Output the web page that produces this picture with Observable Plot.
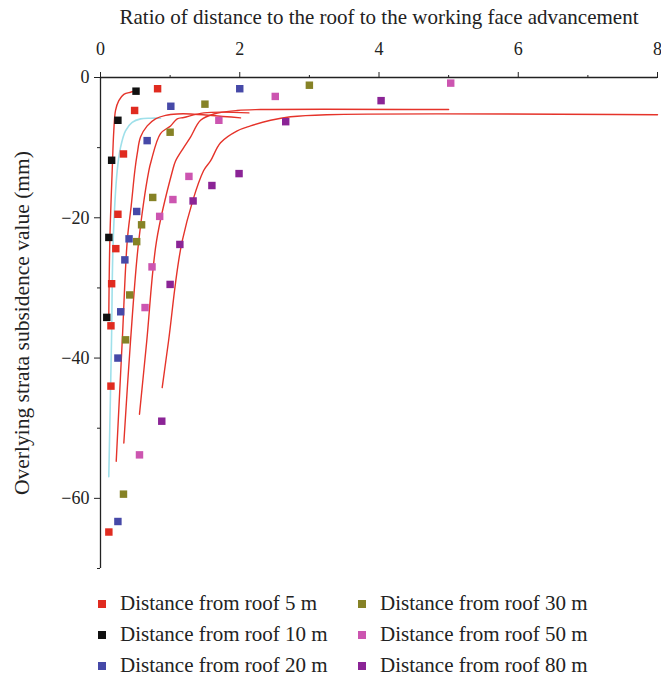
<!DOCTYPE html>
<html>
<head>
<meta charset="utf-8">
<script src="https://cdn.jsdelivr.net/npm/d3@7"></script>
<script src="https://cdn.jsdelivr.net/npm/@observablehq/plot@0.6"></script>
<style>
  body { margin: 0; background: #fff; }
  #wrap { width: 661px; font-family: "Liberation Serif", "DejaVu Serif", serif; color: #222; }
  .legend { display: grid; grid-template-columns: 260px 260px; row-gap: 8px; margin: 12px 0 0 98px; font-size: 21px; }
  .item { display: flex; align-items: center; height: 23px; }
  .sw { width: 8px; height: 8px; margin-right: 14px; flex: none; }
</style>
</head>
<body>
<div id="wrap"></div>
<script>
// ---- data: scatter series ----
const seriesNames = ["Distance from roof 5 m", "Distance from roof 10 m", "Distance from roof 20 m",
                     "Distance from roof 30 m", "Distance from roof 50 m", "Distance from roof 80 m"];
const seriesColors = ["#e02b20", "#111111", "#4649a8", "#868226", "#cc55b0", "#8b2496"];

const x5  = [0.82, 0.49, 0.33, 0.25, 0.22, 0.16, 0.15, 0.15, 0.12];
const y5  = [-1.6, -4.7, -10.9, -19.5, -24.4, -29.4, -35.4, -44, -64.8];
const x10 = [0.51, 0.25, 0.16, 0.12, 0.09];
const y10 = [-1.95, -6.1, -11.8, -22.8, -34.2];
const x20 = [2.0, 1.01, 0.67, 0.52, 0.41, 0.35, 0.29, 0.25, 0.25];
const y20 = [-1.6, -4.1, -9, -19.1, -23, -26, -33.4, -40, -63.3];
const x30 = [3.0, 1.5, 1.0, 0.75, 0.59, 0.52, 0.42, 0.36, 0.33];
const y30 = [-1.1, -3.8, -7.8, -17.1, -21, -23.4, -31, -37.4, -59.4];
const x50 = [5.03, 2.51, 1.70, 1.27, 1.04, 0.85, 0.74, 0.64, 0.56];
const y50 = [-0.8, -2.7, -6.1, -14.1, -17.4, -19.8, -27, -32.8, -53.8];
const x80 = [4.03, 2.66, 1.99, 1.6, 1.33, 1.14, 1.0, 0.88];
const y80 = [-3.3, -6.3, -13.7, -15.4, -17.6, -23.8, -29.5, -49];

// ---- data: fitted curves ----
const fitAx = [0.119, 0.134, 0.168, 0.191, 0.216, 0.263, 0.335, 0.431, 0.478];
const fitAy = [-34.3, -23.3, -13.3, -7.6, -4.7, -3.3, -2.4, -2.1, -2.0];
const fitCyanX = [0.119, 0.158, 0.182, 0.240, 0.287, 0.359, 0.455, 0.575, 0.718, 0.862];
const fitCyanY = [-56.9, -37.6, -23.3, -13.3, -10.0, -7.6, -6.4, -5.9, -5.8, -5.8];
const fitBx = [0.226, 0.312, 0.384, 0.441, 0.493, 0.527, 0.575, 0.671, 0.790, 0.934, 1.102, 1.293, 2.011];
const fitBy = [-54.7, -37.6, -23.3, -18.3, -13.3, -10.9, -8.5, -6.9, -5.9, -5.4, -5.2, -5.2, -5.76];
const fitCx = [0.335, 0.431, 0.545, 0.694, 0.728, 0.862, 1.006, 1.102, 1.197, 1.484, 2.131];
const fitCy = [-52.1, -37.6, -23.7, -13.3, -11.9, -8.0, -6.9, -5.9, -5.7, -5.04, -5.04];
const fitDx = [0.560, 0.664, 0.805, 1.034, 1.078, 1.197, 1.293, 1.437, 1.628, 1.964, 2.299, 5.0];
const fitDy = [-48.0, -37.6, -23.3, -13.3, -11.9, -9.96, -8.5, -6.1, -5.2, -4.7, -4.57, -4.57];
const fitEx = [0.886, 0.977, 1.174, 1.480, 1.580, 1.724, 1.964, 2.155, 2.443, 2.730, 3.247, 8.0];
const fitEy = [-44.2, -37.6, -23.3, -13.3, -11.9, -9.3, -7.6, -6.9, -6.1, -5.6, -5.3, -5.3];

// ---- axis ticks ----
const xMajor = [0, 2, 4, 6, 8];
const xMinor = [1, 3, 5, 7];
const yMajor = [0, -20, -40, -60];
const yMinor = [-10, -30, -50, -70];
const xTitle = "Ratio of distance to the roof to the working face advancement";
const yTitle = "Overlying strata subsidence value (mm)";

const xs = [x5, x10, x20, x30, x50, x80];
const ys = [y5, y10, y20, y30, y50, y80];
const points = xs.flatMap((xa, i) => xa.map((x, j) => ({x, y: ys[i][j], s: seriesNames[i]})));

const mkLine = (X, Y, id) => X.map((x, i) => ({x, y: Y[i], id}));
const redLines = [
  ...mkLine(fitAx, fitAy, "A"), ...mkLine(fitBx, fitBy, "B"), ...mkLine(fitCx, fitCy, "C"),
  ...mkLine(fitDx, fitDy, "D"), ...mkLine(fitEx, fitEy, "E")
];
const cyanLine = mkLine(fitCyanX, fitCyanY, "cyan");
const fmt = d => d < 0 ? "\u2212" + (-d) : String(d);

const chart = Plot.plot({
  width: 661,
  height: 580,
  marginTop: 77,
  marginLeft: 100,
  marginRight: 4,
  marginBottom: 12,
  style: {fontFamily: "'Liberation Serif', 'DejaVu Serif', serif", fontSize: "18px", background: "#fff", color: "#222"},
  x: {domain: [0, 8]},
  y: {domain: [-70, 0]},
  color: {domain: seriesNames, range: seriesColors},
  marks: [
    Plot.axisX({anchor: "top", ticks: xMajor, tickSize: 6, tickPadding: 17, tickFormat: fmt, label: null}),
    Plot.axisX({anchor: "top", ticks: xMinor, tickSize: 3, tickFormat: () => "", label: null}),
    Plot.axisY({anchor: "left", ticks: yMajor, tickSize: 6, tickPadding: 5, tickFormat: fmt, label: null}),
    Plot.axisY({anchor: "left", ticks: yMinor, tickSize: 3, tickFormat: () => "", label: null}),
    Plot.ruleY([0], {stroke: "#222", strokeWidth: 1.3}),
    Plot.ruleX([0], {stroke: "#222", strokeWidth: 1.3}),
    Plot.text([xTitle], {frameAnchor: "top", dy: -60, fontSize: 21, lineAnchor: "middle", textAnchor: "middle"}),
    Plot.text([yTitle], {frameAnchor: "left", rotate: -90, dx: -78, fontSize: 21.5, textAnchor: "middle", lineAnchor: "middle"}),
    Plot.line(cyanLine, {x: "x", y: "y", z: "id", stroke: "#9fe0ea", strokeWidth: 1.6, curve: "catmull-rom"}),
    Plot.line(redLines, {x: "x", y: "y", z: "id", stroke: "#e5332a", strokeWidth: 1.4, curve: "catmull-rom"}),
    Plot.dot(points, {x: "x", y: "y", fill: "s", symbol: "square", r: 4.2})
  ]
});

const wrap = document.getElementById("wrap");
wrap.appendChild(chart);

const leg = document.createElement("div");
leg.className = "legend";
const order = [0, 3, 1, 4, 2, 5];
for (const i of order) {
  const it = document.createElement("div");
  it.className = "item";
  const sw = document.createElement("span");
  sw.className = "sw";
  sw.style.background = seriesColors[i];
  const t = document.createElement("span");
  t.textContent = seriesNames[i];
  it.appendChild(sw); it.appendChild(t);
  leg.appendChild(it);
}
wrap.appendChild(leg);
</script>
</body>
</html>
